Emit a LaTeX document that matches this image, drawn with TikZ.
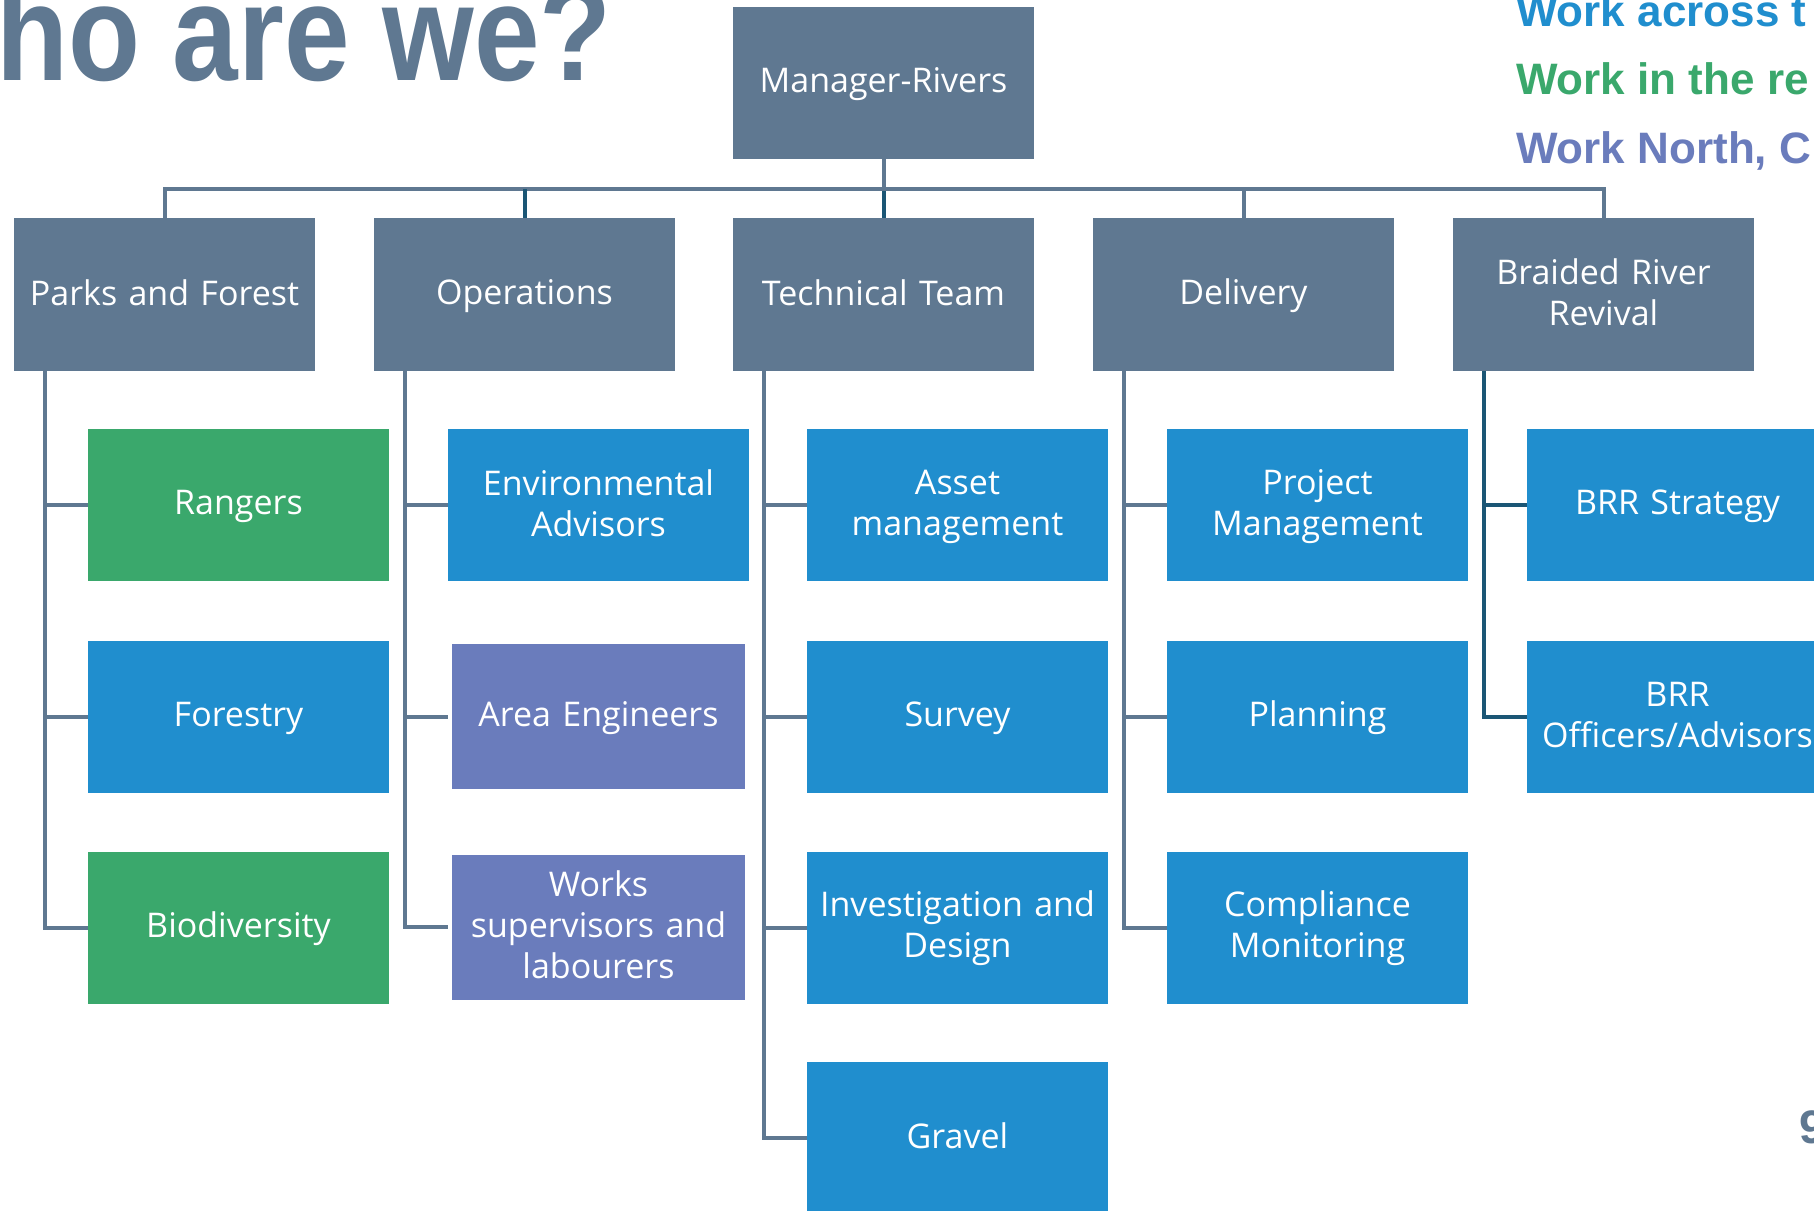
\documentclass[tikz,border=0pt]{standalone}
\usepackage{fontspec}
\setmainfont{Open Sans}
\newfontfamily\titlefont{Liberation Sans}
\definecolor{slate}{HTML}{5F7891}
\definecolor{darkline}{HTML}{1B5675}
\definecolor{bblue}{HTML}{208ECE}
\definecolor{bgreen}{HTML}{3AA86C}
\definecolor{bpurple}{HTML}{6A7CBC}
\newcommand{\boxstrut}{\rule[-7pt]{0pt}{35pt}}
\begin{document}
\begin{tikzpicture}[x=1pt,y=-1pt,
  box/.style={rectangle, inner sep=0pt, minimum width=301pt, minimum height=152pt,
    text width=300pt, align=center, text=white, font=\fontsize{34}{41}\selectfont,
    execute at begin node=\boxstrut, execute at end node=\boxstrut},
  headbox/.style={box, fill=slate},
  bluebox/.style={box, fill=bblue},
  greenbox/.style={box, fill=bgreen},
  purplebox/.style={box, fill=bpurple, text width=292pt, minimum width=293pt, minimum height=145pt},
  conn/.style={draw=slate, line width=4pt},
  darkconn/.style={draw=darkline, line width=4pt},
  sidetext/.style={anchor=base west, inner sep=0pt, font=\titlefont\bfseries\fontsize{44}{44}\selectfont}
]
\useasboundingbox[fill=white] (0,0) rectangle (1814,1210);

% title and side texts
\node[anchor=base west, inner sep=0pt, text=slate] (title) at (-4,80)
  {\scalebox{0.86}[1]{\titlefont\bfseries\fontsize{137}{137}\selectfont ho are we?}};
\node[sidetext, text=bblue] (w1) at (1516,26) {Work across t};
\node[sidetext, text=bgreen] (w2) at (1516,94) {Work in the re};
\node[sidetext, text=bpurple] (w3) at (1516,163) {Work North, C};
\node[anchor=base west, inner sep=0pt, text=slate, font=\titlefont\bfseries\fontsize{47}{47}\selectfont] (pg) at (1799,1143) {9};

% manager and heads
\node[headbox] (mgr) at (883.5,83) {Manager-Rivers};
\node[headbox, minimum height=153pt] (pf) at (164.5,294.5) {Parks and Forest};
\node[headbox, minimum height=153pt] (op) at (524.5,294.5) {Operations};
\node[headbox, minimum height=153pt] (tt) at (883.5,294.5) {Technical Team};
\node[headbox, minimum height=153pt] (dl) at (1243.5,294.5) {Delivery};
\node[headbox, minimum height=153pt] (br) at (1603.5,294.5) {Braided River\\Revival};

% column 1
\node[greenbox] (rang) at (238.5,505) {Rangers};
\node[bluebox] (fore) at (238.5,716.5) {Forestry};
\node[greenbox] (biod) at (238.5,927.5) {Biodiversity};
% column 2
\node[bluebox] (env) at (598.5,505) {Environmental\\Advisors};
\node[purplebox] (area) at (598.5,716.5) {Area Engineers};
\node[purplebox] (works) at (598.5,927) {Works\\supervisors and\\labourers};
% column 3
\node[bluebox] (asset) at (957.5,505) {Asset\\management};
\node[bluebox] (surv) at (957.5,716.5) {Survey};
\node[bluebox] (inv) at (957.5,927.5) {Investigation and\\Design};
\node[bluebox] (grav) at (957.5,1137.5) {Gravel};
% column 4
\node[bluebox] (proj) at (1317.5,505) {Project\\Management};
\node[bluebox] (plan) at (1317.5,716.5) {Planning};
\node[bluebox] (comp) at (1317.5,927.5) {Compliance\\Monitoring};
% column 5
\node[bluebox] (brs) at (1677.5,505) {BRR Strategy};
\node[bluebox] (bro) at (1677.5,716.5) {BRR\\Officers/Advisors};

% top connectors
\coordinate (bus) at (883.5,189);
\draw[conn] (mgr.south) -- (bus);
\draw[darkconn] (bus) -- (tt.north);
\draw[conn] (pf.north) -- (pf.north |- bus) -| (br.north);
\draw[darkconn] (op.north) -- (op.north |- bus);
\draw[conn] (dl.north) -- (dl.north |- bus);

% spines
\coordinate (s1) at ([xshift=31pt]pf.south west);
\coordinate (s2) at ([xshift=31pt]op.south west);
\coordinate (s3) at ([xshift=31pt]tt.south west);
\coordinate (s4) at ([xshift=31pt]dl.south west);
\coordinate (s5) at ([xshift=31pt]br.south west);

\draw[conn] (s1) |- (biod.west);
\draw[conn] (s1 |- rang.west) -- (rang.west);
\draw[conn] (s1 |- fore.west) -- (fore.west);

\draw[conn] (s2) |- ([xshift=-4pt]works.west);
\draw[conn] (s2 |- env.west) -- (env.west);
\draw[conn] (s2 |- area.west) -- ([xshift=-4pt]area.west);

\draw[conn] (s3) |- (grav.west);
\draw[conn] (s3 |- asset.west) -- (asset.west);
\draw[conn] (s3 |- surv.west) -- (surv.west);
\draw[conn] (s3 |- inv.west) -- (inv.west);

\draw[conn] (s4) |- (comp.west);
\draw[conn] (s4 |- proj.west) -- (proj.west);
\draw[conn] (s4 |- plan.west) -- (plan.west);

\draw[darkconn] (s5) |- (bro.west);
\draw[darkconn] (s5 |- brs.west) -- (brs.west);
\end{tikzpicture}
\end{document}
